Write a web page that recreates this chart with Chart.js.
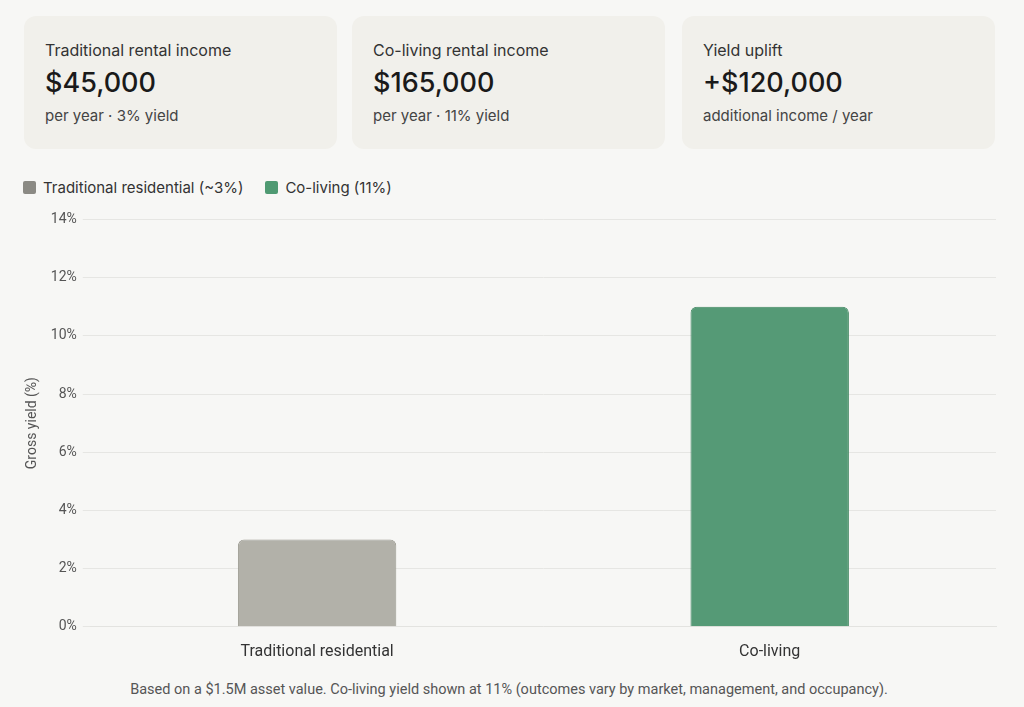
<!DOCTYPE html>
<html><head><meta charset="utf-8">
<script src="https://cdn.jsdelivr.net/npm/chart.js@4"></script>
<style>
body{margin:0;background:#f7f7f5;font-family:Inter,sans-serif;color:#1f1f1f;width:1024px;height:707px;overflow:hidden;position:relative}
.card{position:absolute;top:16px;height:133px;width:313px;background:#f1f0eb;border-radius:12px;box-sizing:border-box;padding:24px 21px}
.card .t{font-size:16px;color:#333;margin-top:0}
.card .v{font-size:27px;font-weight:500;margin-top:6px;color:#1a1a1a}
.card .s{font-size:15px;color:#444;margin-top:7px}
#legend{position:absolute;top:178px;left:23px;font-size:15px;color:#333;display:flex;gap:22px}
#legend span.sw{display:inline-block;width:13px;height:13px;border-radius:2px;margin-right:7px;vertical-align:-1px}
#wrap{position:absolute;left:20px;top:205px;width:984px;height:465px}
#note{position:absolute;top:681px;left:0;width:1018px;text-align:center;font-family:Roboto,sans-serif;font-size:14.5px;color:#555}
</style></head><body>
<div class="card" style="left:24px"><div class="t">Traditional rental income</div><div class="v">$45,000</div><div class="s">per year · 3% yield</div></div>
<div class="card" style="left:352px"><div class="t">Co-living rental income</div><div class="v">$165,000</div><div class="s">per year · 11% yield</div></div>
<div class="card" style="left:682px"><div class="t">Yield uplift</div><div class="v">+$120,000</div><div class="s">additional income / year</div></div>
<div id="legend"><div><span class="sw" style="background:#8b8a84"></span>Traditional residential (~3%)</div><div><span class="sw" style="background:#4f9a72"></span>Co-living (11%)</div></div>
<div id="wrap"><canvas id="c"></canvas></div>
<div id="note">Based on a $1.5M asset value. Co-living yield shown at 11% (outcomes vary by market, management, and occupancy).</div>
<script>
const categories = ['Traditional residential', 'Co-living'];
const yieldValues = [3, 11];
const barColors = ['#b2b1a9', '#559a76'];
const borderColors = ['#9a9990', '#3f8560'];

new Chart(document.getElementById('c'), {
  type: 'bar',
  data: {
    labels: categories,
    datasets: [{
      data: yieldValues,
      backgroundColor: barColors,
      borderColor: borderColors,
      borderWidth: 1,
      borderRadius: {topLeft: 6, topRight: 6},
      borderSkipped: 'bottom',
      barPercentage: 0.7,
      categoryPercentage: 0.5
    }]
  },
  options: {
    responsive: true,
    maintainAspectRatio: false,
    animation: false,
    layout: {padding: {top: 8, right: 8}},
    plugins: {legend: {display: false}, tooltip: {enabled: false}},
    scales: {
      x: {
        grid: {display: false},
        border: {color: '#e3e3e0'},
        ticks: {color: '#333', font: {family: 'Roboto', size: 16}, padding: 8}
      },
      y: {
        min: 0, max: 14,
        ticks: {stepSize: 2, callback: v => v + '%', color: '#555', font: {family: 'Roboto', size: 14}, padding: 6},
        grid: {color: '#e6e6e3'},
        border: {display: false},
        title: {display: true, text: 'Gross yield (%)', color: '#555', font: {family: 'Roboto', size: 14}}
      }
    }
  }
});
</script>
</body></html>
